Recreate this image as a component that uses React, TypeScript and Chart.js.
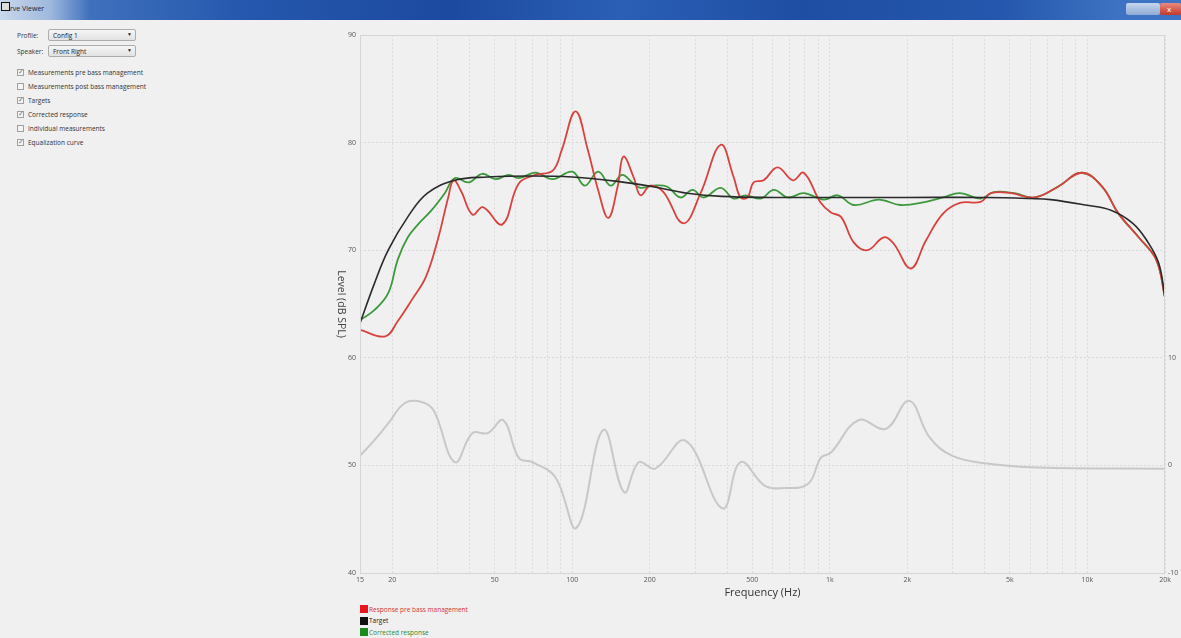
import React, { useEffect, useRef } from "react";
import { Chart, registerables } from "chart.js";
Chart.register(...registerables);

// ---- Data ----
const responseFreq = [15, 18.8, 21, 24, 27, 30, 33, 34.6, 37, 41, 45, 53.5, 62, 72, 84, 91, 103, 115, 126, 138, 150, 158, 173, 184, 201, 226, 270, 315, 377, 423, 450, 479, 506, 553, 627, 718, 792, 922, 1010, 1105, 1240, 1400, 1620, 1770, 2060, 2360, 2750, 3200, 3850, 4220, 5050, 6230, 7680, 9500, 11400, 13200, 15800, 18500, 20000];
const responseLevel = [62.6, 62.0, 63.4, 65.5, 67.5, 70.9, 74.9, 76.5, 75.5, 73.3, 74.0, 72.4, 76.2, 77.0, 77.4, 79.3, 82.9, 79.3, 75.6, 73.0, 75.9, 78.7, 76.8, 75.1, 76.0, 75.4, 72.5, 75.3, 79.8, 76.8, 74.9, 74.9, 76.3, 76.5, 77.7, 76.5, 77.2, 74.4, 73.5, 73.1, 70.7, 70.0, 71.2, 70.6, 68.3, 70.9, 73.4, 74.4, 74.5, 75.3, 75.3, 74.9, 75.9, 77.2, 75.9, 73.4, 71.2, 69.1, 65.6];

const targetFreq = [15, 17, 19.3, 23, 27.4, 35, 47, 70, 100, 150, 206, 280, 380, 600, 1000, 2000, 4000, 6000, 7200, 9800, 12400, 15000, 17000, 18900, 20000];
const targetLevel = [63.2, 66.8, 70.0, 73.1, 75.3, 76.5, 76.8, 76.9, 76.8, 76.4, 75.9, 75.3, 75.0, 74.9, 74.9, 74.9, 74.9, 74.8, 74.7, 74.2, 73.7, 72.5, 70.9, 68.8, 65.6];

const correctedFreq = [15, 17, 19.3, 21, 23, 25.4, 28.4, 32, 35, 39.6, 44.7, 50.3, 56.6, 62, 72, 84, 100, 112, 126, 141, 156, 171, 184, 206, 234, 263, 293, 324, 377, 423, 470, 539, 606, 688, 792, 948, 1073, 1240, 1550, 1880, 2360, 2750, 3200, 3850, 4330, 5200, 6230, 7680, 9500, 11400, 13200, 15800, 18500, 20000];
const correctedLevel = [63.5, 64.4, 66.0, 69.1, 71.2, 72.5, 73.7, 75.3, 76.7, 76.3, 77.1, 76.6, 77.0, 76.7, 77.2, 76.6, 77.3, 76.0, 77.3, 76.0, 77.0, 76.3, 75.8, 76.0, 75.9, 74.9, 75.6, 74.9, 75.8, 74.8, 75.1, 74.8, 75.6, 74.9, 75.3, 74.7, 75.1, 74.2, 74.7, 74.2, 74.5, 74.9, 75.3, 74.8, 75.4, 75.3, 74.9, 75.9, 77.2, 75.9, 73.4, 71.2, 69.1, 65.6];

const eqFreq = [15, 17, 19.3, 22.4, 26, 29, 35, 41, 47, 54, 62, 70, 86, 104, 132, 159, 181, 210, 275, 383, 450, 560, 664, 824, 922, 1010, 1290, 1650, 2030, 2440, 2980, 4000, 6400, 20000];
const eqGain = [0.9, 2.3, 3.9, 5.8, 5.9, 5.1, 0.3, 3.0, 3.0, 4.2, 0.7, 0.3, -1.1, -5.8, 3.3, -2.5, 0.3, -0.3, 2.3, -4.0, 0.3, -1.9, -2.1, -1.7, 0.7, 1.2, 4.2, 3.4, 6.0, 2.6, 0.9, 0.2, -0.2, -0.3];

const xGridValues = [15, 20, 30, 40, 50, 60, 70, 80, 90, 100, 200, 300, 400, 500, 600, 700, 800, 900, 1000, 2000, 3000, 4000, 5000, 6000, 7000, 8000, 9000, 10000, 20000];
const xTickValues = [15, 20, 50, 100, 200, 500, 1000, 2000, 5000, 10000, 20000];
const xTickLabels = ["15", "20", "50", "100", "200", "500", "1k", "2k", "5k", "10k", "20k"];
const rightTickValues = [-10, 0, 10];

const pts = (xs: number[], ys: number[]) => xs.map((x, i) => ({ x, y: ys[i] }));

const UI_FONT = "'Open Sans', 'Noto Sans', sans-serif";

const framePlugin = {
  id: "frameAndTitle",
  afterDraw(chart: any) {
    const { ctx, chartArea } = chart;
    ctx.save();
    ctx.strokeStyle = "#d6d6d6";
    ctx.lineWidth = 1;
    ctx.setLineDash([]);
    ctx.strokeRect(chartArea.left + 0.5, chartArea.top + 0.5, chartArea.right - chartArea.left - 1, chartArea.bottom - chartArea.top);
    // Y title rotated clockwise (reads top to bottom)
    ctx.translate(16, (chartArea.top + chartArea.bottom) / 2);
    ctx.rotate(Math.PI / 2);
    ctx.fillStyle = "#444";
    ctx.font = "10.5px " + UI_FONT;
    ctx.textAlign = "center";
    ctx.textBaseline = "middle";
    ctx.fillText("Level (dB SPL)", 0, 0);
    ctx.restore();
  },
};

function Checkbox({ checked, label, top }: { checked: boolean; label: string; top: number }) {
  return (
    <div style={{ position: "absolute", left: 17, top, height: 10, display: "flex", alignItems: "center" }}>
      <div style={{ width: 7, height: 7, border: "1px solid #a0a0a0", background: "#f4f4f4", position: "relative", boxSizing: "border-box" }}>
        {checked && <span style={{ position: "absolute", left: 0, top: -3, fontSize: 7, color: "#777", lineHeight: "10px" }}>✓</span>}
      </div>
      <span style={{ marginLeft: 4, fontSize: 6.5, color: "#333", fontFamily: UI_FONT, whiteSpace: "nowrap" }}>{label}</span>
    </div>
  );
}

function Combo({ text, top }: { text: string; top: number }) {
  return (
    <div style={{ position: "absolute", left: 48, top, width: 88, height: 12, border: "1px solid #acacac", background: "linear-gradient(#f6f6f6,#e2e2e2)", borderRadius: 2, boxSizing: "border-box" }}>
      <span style={{ position: "absolute", left: 4, top: 1, fontSize: 6.5, color: "#222", fontFamily: UI_FONT }}>{text}</span>
      <span style={{ position: "absolute", right: 3, top: 1, fontSize: 5, color: "#222" }}>▼</span>
    </div>
  );
}

export default function App() {
  const ref = useRef<HTMLCanvasElement>(null);

  useEffect(() => {
    const canvas = ref.current!;
    const chart = new Chart(canvas, {
      type: "line",
      data: {
        datasets: [
          { label: "Equalization curve", data: pts(eqFreq, eqGain), yAxisID: "y1", borderColor: "#c8c8c8", borderWidth: 2 },
          { label: "Target", data: pts(targetFreq, targetLevel), yAxisID: "y", borderColor: "#2a2a2a", borderWidth: 1.6 },
          { label: "Response pre bass management", data: pts(responseFreq, responseLevel), yAxisID: "y", borderColor: "#d8423e", borderWidth: 1.8 },
          { label: "Corrected response", data: pts(correctedFreq, correctedLevel), yAxisID: "y", borderColor: "#3c9a3c", borderWidth: 1.8 },
        ],
      },
      options: {
        animation: false,
        responsive: false,
        maintainAspectRatio: false,
        layout: { padding: { top: 13, left: 0, right: 0, bottom: 0 } },
        plugins: { legend: { display: false }, tooltip: { enabled: false } },
        elements: { point: { radius: 0 }, line: { tension: 0.4, fill: false } },
        scales: {
          x: {
            type: "logarithmic",
            min: 15,
            max: 20000,
            afterBuildTicks: (s: any) => {
              s.ticks = xGridValues.map((v) => ({ value: v }));
            },
            afterFit: (s: any) => {
              s.height = 28;
            },
            ticks: {
              autoSkip: false,
              maxRotation: 0,
              padding: 3,
              color: "#555",
              font: { size: 7, family: UI_FONT },
              callback: (v: any) => {
                const i = xTickValues.indexOf(Number(v));
                return i >= 0 ? xTickLabels[i] : "";
              },
            },
            grid: { color: "#dcdcdc", drawTicks: false, lineWidth: 1 },
            border: { display: false, dash: [2, 2] },
            title: { display: true, text: "Frequency (Hz)", color: "#333", font: { size: 11, family: UI_FONT }, padding: { top: 0, bottom: 2 } },
          },
          y: {
            position: "left",
            min: 40,
            max: 90,
            afterFit: (s: any) => {
              s.width = 35;
            },
            ticks: { stepSize: 10, padding: 4, color: "#555", font: { size: 7, family: UI_FONT } },
            grid: { color: "#d8d8d8", drawTicks: false },
            border: { display: false, dash: [2, 2] },
          },
          y1: {
            position: "right",
            min: -10,
            max: 40,
            afterBuildTicks: (s: any) => {
              s.ticks = rightTickValues.map((v) => ({ value: v }));
            },
            afterFit: (s: any) => {
              s.width = 16;
            },
            ticks: { padding: 3, color: "#555", font: { size: 7, family: UI_FONT } },
            grid: { drawOnChartArea: false, drawTicks: false },
            border: { display: false },
          },
        },
      } as any,
      plugins: [framePlugin],
    });
    return () => chart.destroy();
  }, []);

  const legendItems = [
    { label: "Response pre bass management", box: "#e8141e", text: "#d83030" },
    { label: "Target", box: "#111", text: "#222" },
    { label: "Corrected response", box: "#1a8a1a", text: "#2e8b2e" },
  ];

  return (
    <div style={{ position: "fixed", left: 0, top: 0, width: 1181, height: 638, background: "#f0f0f0", overflow: "hidden", fontFamily: UI_FONT }}>
      {/* title bar */}
      <div style={{ position: "absolute", left: 0, top: 0, width: 1181, height: 20, background: "linear-gradient(to right, #c9d8ec 0px, #9fb9dd 50px, #3f70bd 90px, #2457ad 250px, #1c4aa0 450px, #2a5fb5 620px, #1e4ea4 800px, #2457ad 1000px, #3d73c2 1120px)" }}>
        <div style={{ position: "absolute", left: 1, top: 2, width: 7, height: 7, border: "1px solid #111", background: "#ddd" }} />
        <span style={{ position: "absolute", left: 10, top: 4, fontSize: 7, color: "#223", fontFamily: UI_FONT }}>rve Viewer</span>
        <div style={{ position: "absolute", left: 1126, top: 3, width: 34, height: 12, background: "linear-gradient(#c6d6ee,#8eaad6)", borderRadius: 2 }} />
        <div style={{ position: "absolute", left: 1160, top: 3, width: 21, height: 12, background: "linear-gradient(#e88a80,#c4392a)", borderRadius: 2 }} />
        <span style={{ position: "absolute", left: 1167, top: 3, fontSize: 8, color: "#fff" }}>x</span>
      </div>

      {/* left panel */}
      <span style={{ position: "absolute", left: 17, top: 31, fontSize: 6.5, color: "#333" }}>Profile:</span>
      <Combo text="Config 1" top={29} />
      <span style={{ position: "absolute", left: 17, top: 47, fontSize: 6.5, color: "#333" }}>Speaker:</span>
      <Combo text="Front Right" top={45} />
      <Checkbox checked label="Measurements pre bass management" top={67} />
      <Checkbox checked={false} label="Measurements post bass management" top={81} />
      <Checkbox checked label="Targets" top={95} />
      <Checkbox checked label="Corrected response" top={109} />
      <Checkbox checked={false} label="Individual measurements" top={123} />
      <Checkbox checked label="Equalization curve" top={137} />

      {/* chart */}
      <canvas ref={ref} width={856} height={579} style={{ position: "absolute", left: 325, top: 22, width: 856, height: 579 }} />

      {/* legend */}
      {legendItems.map((it, i) => (
        <div key={it.label} style={{ position: "absolute", left: 360, top: 604 + i * 11.5, height: 10, display: "flex", alignItems: "center" }}>
          <div style={{ width: 8, height: 8, background: it.box }} />
          <span style={{ marginLeft: 1, fontSize: 6.5, color: it.text, whiteSpace: "nowrap" }}>{it.label}</span>
        </div>
      ))}
    </div>
  );
}
